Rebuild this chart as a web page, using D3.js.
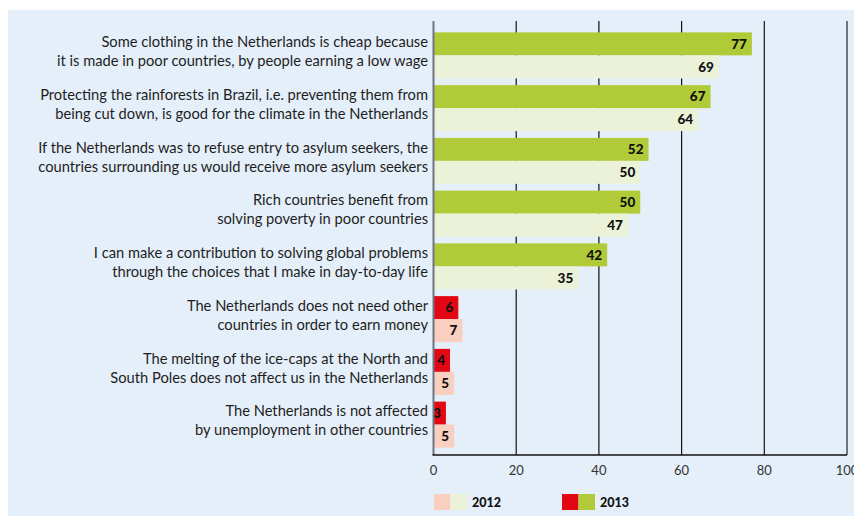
<!DOCTYPE html>
<html>
<head>
<meta charset="utf-8">
<script src="https://cdn.jsdelivr.net/npm/d3@7"></script>
<style>
  html, body { margin: 0; padding: 0; background: #ffffff; }
  svg { display: block; }
</style>
</head>
<body>
<svg id="chart" width="854" height="516"></svg>
<script>
// Statements, each split over two lines
const statements = [
  ["Some clothing in the Netherlands is cheap because", "it is made in poor countries, by people earning a low wage"],
  ["Protecting the rainforests in Brazil, i.e. preventing them from", "being cut down, is good for the climate in the Netherlands"],
  ["If the Netherlands was to refuse entry to asylum seekers, the", "countries surrounding us would receive more asylum seekers"],
  ["Rich countries benefit from", "solving poverty in poor countries"],
  ["I can make a contribution to solving global problems", "through the choices that I make in day-to-day life"],
  ["The Netherlands does not need other", "countries in order to earn money"],
  ["The melting of the ice-caps at the North and", "South Poles does not affect us in the Netherlands"],
  ["The Netherlands is not affected", "by unemployment in other countries"]
];
// Share agreeing (%)
const values2013 = [77, 67, 52, 50, 42, 6, 4, 3];
const values2012 = [69, 64, 50, 47, 35, 7, 5, 5];
// Statements phrased as a denial of global interdependence
const denial = [false, false, false, false, false, true, true, true];
const xTicks = [0, 20, 40, 60, 80, 100];
const years = ["2012", "2013"];

const svg = d3.select("#chart");
const W = 854, H = 516;

const colors = {
  panel: "#e5eff9",
  green2013: "#b0cb37",
  green2012: "#ebf2d8",
  red2013: "#e30613",
  red2012: "#f9cfbf",
  text: "#1e1e1e"
};

svg.append("rect")
  .attr("x", 8).attr("y", 10)
  .attr("width", W - 8).attr("height", H - 10)
  .attr("fill", colors.panel);

const x = d3.scaleLinear().domain([0, 100]).range([433.5, 847]);
const yTop = 21, yBottom = 455;

const y = d3.scaleBand()
  .domain(d3.range(statements.length))
  .range([29, 29 + 8 * 52.75])
  .paddingInner(0.128)
  .paddingOuter(0.064);
const barH = y.bandwidth() / 2;

// Vertical gridlines
const grid = svg.append("g");
grid.selectAll("line")
  .data(xTicks.filter(t => t > 0))
  .join("line")
  .attr("x1", d => x(d)).attr("x2", d => x(d))
  .attr("y1", yTop).attr("y2", yBottom)
  .attr("stroke", d => d === 100 ? "#6d7580" : "#111")
  .attr("stroke-width", d => d === 100 ? 2 : 1.2);

// Bars
const rows = statements.map((s, i) => ({
  i, lines: s, v13: values2013[i], v12: values2012[i], denial: denial[i]
}));

const g = svg.append("g");
const rowG = g.selectAll("g.row").data(rows).join("g").attr("class", "row");

rowG.append("rect")
  .attr("x", x(0))
  .attr("y", d => y(d.i))
  .attr("width", d => x(d.v13) - x(0))
  .attr("height", barH)
  .attr("fill", d => d.denial ? colors.red2013 : colors.green2013);

rowG.append("rect")
  .attr("x", x(0))
  .attr("y", d => y(d.i) + barH)
  .attr("width", d => x(d.v12) - x(0))
  .attr("height", barH)
  .attr("fill", d => d.denial ? colors.red2012 : colors.green2012);

const valueFont = "Lato, 'DejaVu Sans', sans-serif";
rowG.append("text")
  .attr("x", d => x(d.v13) - 5)
  .attr("y", d => y(d.i) + barH / 2)
  .attr("dy", "0.36em")
  .attr("text-anchor", "end")
  .attr("font-family", valueFont)
  .attr("font-weight", 900)
  .attr("font-size", 13.5)
  .attr("fill", "#111")
  .text(d => d.v13);

rowG.append("text")
  .attr("x", d => x(d.v12) - 5)
  .attr("y", d => y(d.i) + barH * 1.5)
  .attr("dy", "0.36em")
  .attr("text-anchor", "end")
  .attr("font-family", valueFont)
  .attr("font-weight", 900)
  .attr("font-size", 13.5)
  .attr("fill", "#111")
  .text(d => d.v12);

// Statement labels
rowG.append("text")
  .attr("text-anchor", "end")
  .attr("font-family", "Lato, 'Open Sans', sans-serif")
  .attr("font-size", 14.7)
  .attr("fill", colors.text)
  .selectAll("tspan")
  .data(d => d.lines.map((t, k) => ({ t, k, i: d.i })))
  .join("tspan")
  .attr("x", 428)
  .attr("y", d => y(d.i) + 9.5 + d.k * 19)
  .attr("dy", "0.35em")
  .text(d => d.t);

// Axes lines
svg.append("line")
  .attr("x1", x(0)).attr("x2", x(0))
  .attr("y1", yTop).attr("y2", yBottom)
  .attr("stroke", "#6d7580").attr("stroke-width", 2);

svg.append("line")
  .attr("x1", x(0) - 1).attr("x2", x(100))
  .attr("y1", yBottom).attr("y2", yBottom)
  .attr("stroke", "#111").attr("stroke-width", 1.5);

// Tick labels
svg.append("g").selectAll("text")
  .data(xTicks)
  .join("text")
  .attr("x", d => x(d))
  .attr("y", 470)
  .attr("dy", "0.35em")
  .attr("text-anchor", "middle")
  .attr("font-family", "Lato, 'Open Sans', sans-serif")
  .attr("font-size", 13)
  .attr("fill", "#333")
  .text(d => d);

// Legend
const legend = [
  { year: years[0], sw: [colors.red2012, colors.green2012], x: 434 },
  { year: years[1], sw: [colors.red2013, colors.green2013], x: 562 }
];
const lg = svg.append("g").selectAll("g").data(legend).join("g")
  .attr("transform", d => `translate(${d.x},494)`);
lg.selectAll("rect")
  .data(d => d.sw)
  .join("rect")
  .attr("x", (d, k) => k * 16.5)
  .attr("y", 0)
  .attr("width", 16.5).attr("height", 16)
  .attr("fill", d => d);
lg.append("text")
  .attr("x", 38)
  .attr("y", 8)
  .attr("dy", "0.36em")
  .attr("font-family", valueFont)
  .attr("font-weight", 900)
  .attr("font-size", 12.5)
  .attr("fill", "#111")
  .text(d => d.year);
</script>
</body>
</html>
